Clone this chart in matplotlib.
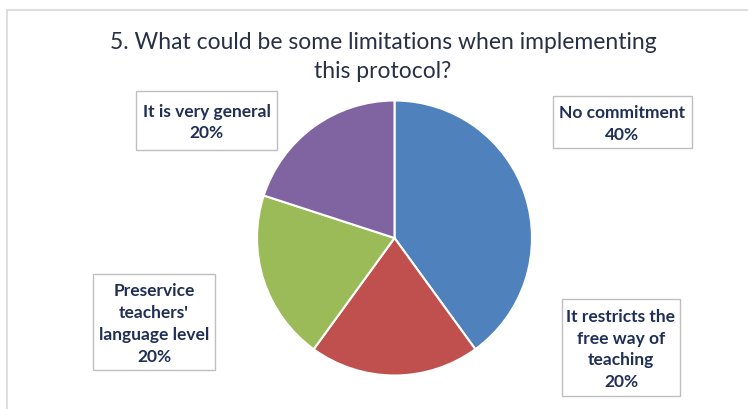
import matplotlib.pyplot as plt
from matplotlib.patches import Rectangle

# Data
labels = ["No commitment", "It restricts the\nfree way of\nteaching",
          "Preservice\nteachers'\nlanguage level", "It is very general"]
values = [40, 20, 20, 20]
colors = ["#4F81BD", "#C0504D", "#9BBB59", "#8064A2"]
title = "5. What could be some limitations when implementing\nthis protocol?"

W, H = 748, 410
fig = plt.figure(figsize=(W / 100, H / 100), dpi=100)
fig.patch.set_facecolor("white")

def fx(x):
    return x / W

def fy(y):
    return 1 - y / H

# Outer chart frame (extends past right/bottom edges)
fig.add_artist(Rectangle((fx(7), fy(430)), fx(760), 419 / H, transform=fig.transFigure,
                         fill=False, edgecolor="#D9D9D9", linewidth=1.2))

# Pie axes placed in pixel space
cx, cy, r = 394.5, 239, 137.5
ax = fig.add_axes([fx(cx - r), fy(cy + r), fx(2 * r), 2 * r / H])
ax.pie(values, colors=colors, startangle=90, counterclock=False,
       wedgeprops=dict(edgecolor="white", linewidth=1.5))
ax.set_xlim(-1, 1)
ax.set_ylim(-1, 1)
ax.set_aspect("equal")
ax.axis("off")

fig.text(fx(383), fy(57), title, ha="center", va="center", fontsize=16.5,
         family="Lato", color="#283044", linespacing=1.45)

# Label boxes: (left, top, right, bottom) in pixels
boxes = [(553, 97, 692, 149), (562, 300, 680, 397), (93, 275, 215, 371), (136, 92, 277, 151)]
for lab, val, (l, t, rr, b) in zip(labels, values, boxes):
    fig.add_artist(Rectangle((fx(l), fy(b)), fx(rr - l), (b - t) / H, transform=fig.transFigure,
                             facecolor="white", edgecolor="#BFBFBF", linewidth=1.0))
    fig.text(fx((l + rr) / 2), fy((t + b) / 2 + 1), f"{lab}\n{val}%", ha="center", va="center",
             fontsize=12.5, fontweight="bold", family="Lato", color="#1F2F55", linespacing=1.45)

fig.savefig("out.png", dpi=100)
